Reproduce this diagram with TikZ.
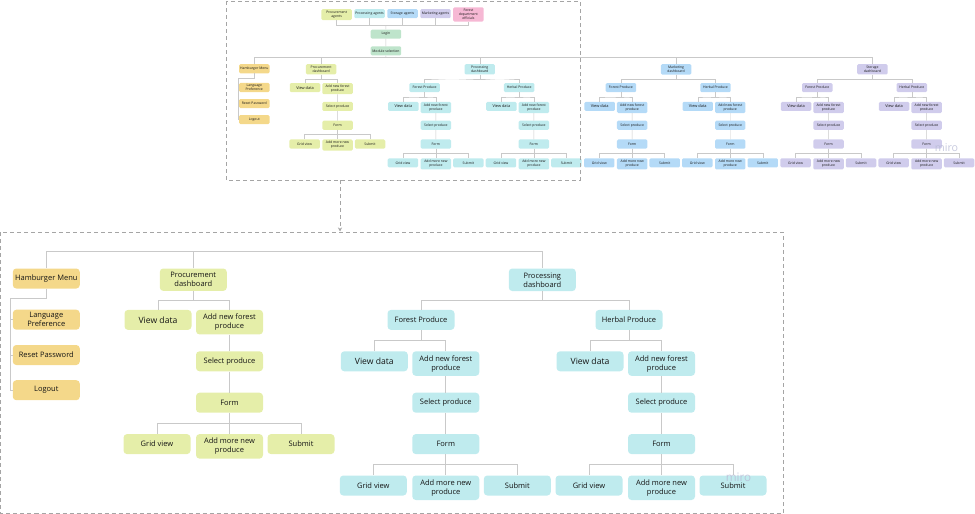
\documentclass[tikz,border=0pt]{standalone}
\usepackage{fontspec}
\setmainfont{Open Sans}
\usepackage{xcolor}
\usepackage{tikz}
\usetikzlibrary{calc,arrows.meta}

\definecolor{procfill}{HTML}{E5EEA9}
\definecolor{prcfill}{HTML}{BFEBEE}
\definecolor{mktfill}{HTML}{B4DAF7}
\definecolor{stofill}{HTML}{D0CCEC}
\definecolor{hamfill}{HTML}{F4D88A}
\definecolor{loginfill}{HTML}{BEE4CB}
\definecolor{deptfill}{HTML}{F6B8D4}
\definecolor{linkgray}{HTML}{C9C9C9}
\definecolor{framegray}{HTML}{A5A5A5}
\definecolor{inktext}{HTML}{151515}
\definecolor{miroink}{HTML}{B9BCD6}

\newcommand{\boxr}{3.5pt}

\tikzset{
	box/.style={fill=#1, rounded corners=\boxr, anchor=north, align=center,
		minimum width=67pt, minimum height=20pt, inner xsep=2pt, inner ysep=4pt,
		font=\fontsize{7.5}{9}\selectfont, text=inktext},
	bigtext/.style={font=\fontsize{8.6}{10}\selectfont},
	link/.style={draw=linkgray, line width=0.9pt},
	zoomframe/.style={draw=framegray, line width=0.8pt, dash pattern=on 4pt off 3pt},
	watermark/.style={text=miroink, opacity=0.8, inner sep=0pt},
}

\newcommand{\forkto}[2]{\draw[link] (#1.south) |- ($(#1.south)!0.5!(#2.north)$) -| (#2.north);}

\newcommand{\producebranch}[4]{%
	\node[box=#4, bigtext] at (#2, #3) (#1vd) {View data};
	\node[box=#4] at (#2+71.5, #3) (#1an) {Add new forest\\produce};
	\node[box=#4] at (#2+71.5, #3+41.4) (#1sp) {Select produce};
	\node[box=#4] at (#2+71.5, #3+82.8) (#1fm) {Form};
	\node[box=#4] at (#2-1, #3+124.2) (#1gv) {Grid view};
	\node[box=#4] at (#2+71.5, #3+124.2) (#1am) {Add more new\\produce};
	\node[box=#4] at (#2+143, #3+124.2) (#1sb) {Submit};
	\draw[link] (#1an) -- (#1sp) -- (#1fm);
	\forkto{#1fm}{#1gv}\forkto{#1fm}{#1am}\forkto{#1fm}{#1sb}
}

\newcommand{\producedash}[4]{%
	\node[box=#3] at (#2+542.3, 268.3) (#1) {#4};
	\node[box=#3] at (#2+421, 309.7) (#1f) {Forest Produce};
	\node[box=#3] at (#2+629, 309.7) (#1h) {Herbal Produce};
	\forkto{#1}{#1f}\forkto{#1}{#1h}
	\producebranch{#1f}{#2+374.3}{351.1}{#3}
	\producebranch{#1h}{#2+590}{351.1}{#3}
	\forkto{#1f}{#1fvd}\forkto{#1f}{#1fan}
	\forkto{#1h}{#1hvd}\forkto{#1h}{#1han}
}

\newcommand{\procurementdash}[1]{%
	\node[box=procfill] at (193.3, 268.3) (#1) {Procurement\\dashboard};
	\producebranch{#1b}{158}{309.7}{procfill}
	\forkto{#1}{#1bvd}\forkto{#1}{#1ban}
}

\newcommand{\hamburgermenu}[1]{%
	\node[box=hamfill] at (46.3, 268.3) (#1) {Hamburger Menu};
	\node[box=hamfill, inner ysep=2.5pt] at (46.3, 309.5) (#1lp) {Language\\Preference};
	\node[box=hamfill] at (46.3, 344.8) (#1rp) {Reset Password};
	\node[box=hamfill] at (46.3, 380) (#1lo) {Logout};
	\coordinate (#1k) at (10, 298.8);
	\draw[link] (#1.south) |- (#1k) |- (#1lp.west);
	\draw[link] (#1k) |- (#1rp.west);
	\draw[link] (#1k) |- (#1lo.west);
}

\newcommand{\loginflow}[1]{%
	\node[box=procfill] at (227.5, 147) (#1pa) {Procurement\\agents};
	\node[box=prcfill] at (300, 147) (#1ra) {Processing agents};
	\node[box=mktfill] at (372.5, 147) (#1sa) {Storage agents};
	\node[box=stofill] at (445, 147) (#1ma) {Marketing agents};
	\node[box=deptfill] at (517.5, 143) (#1fd) {Forest\\department\\officials};
	\node[box=loginfill] at (336, 192) (#1li) {Login};
	\node[box=loginfill] at (336, 229) (#1ms) {Module selection};
	\coordinate (#1ab) at (336, 183);
	\foreach \a in {pa,ra,sa,ma,fd} \draw[link] (#1\a.south) |- (#1ab);
	\draw[link] (#1ab) -- (#1li);
	\draw[link] (#1li) -- (#1ms);
}

\begin{document}
\begin{tikzpicture}[x=1pt, y=-1pt]
	\useasboundingbox (0, 0) rectangle (975, 514);
	\begin{scope}[shift={(233.25, -57.8)}, scale=1/2.2, transform shape, link/.append style={line width=0.45pt}]
		\renewcommand{\boxr}{1.3pt}
		\loginflow{s}
		\hamburgermenu{sham}
		\procurementdash{spd}
		\producedash{sprd}{0}{prcfill}{Processing\\dashboard}
		\producedash{smkd}{432}{mktfill}{Marketing\\dashboard}
		\producedash{sstd}{864}{stofill}{Storage\\dashboard}
		\coordinate (sbus) at (336, 253);
		\draw[link] (sms) -- (sbus);
		\draw[link] (sham.north) |- (sstd.north |- sbus) -- (sstd.north);
		\foreach \d in {spd,sprd,smkd} \draw[link] (\d.north) -- (\d.north |- sbus);
	\end{scope}
	\node[watermark, font=\fontsize{10.7}{11}\selectfont] at (946.5, 147.5) (wmsmall) {miro};

	\hamburgermenu{lham}
	\procurementdash{lpd}
	\producedash{lprd}{0}{prcfill}{Processing\\dashboard}
	\coordinate (lbus) at (46.3, 251.7);
	\draw[link] (lham.north) |- (lprd.north |- lbus) -- (lprd.north);
	\draw[link] (lpd.north) -- (lpd.north |- lbus);
	\node[watermark, font=\fontsize{11.7}{12}\selectfont] at (738.5, 477.5) (wmlarge) {miro};

	\draw[zoomframe] (226, 1) rectangle (580, 180);
	\draw[zoomframe] (0.5, 232) rectangle (783, 513);
	\coordinate (ovout) at (340, 180);
	\coordinate (zoomin) at (340, 231.5);
	\draw[zoomframe, -{Stealth[length=4pt, width=4pt]}] (ovout) -- (zoomin);
\end{tikzpicture}
\end{document}
